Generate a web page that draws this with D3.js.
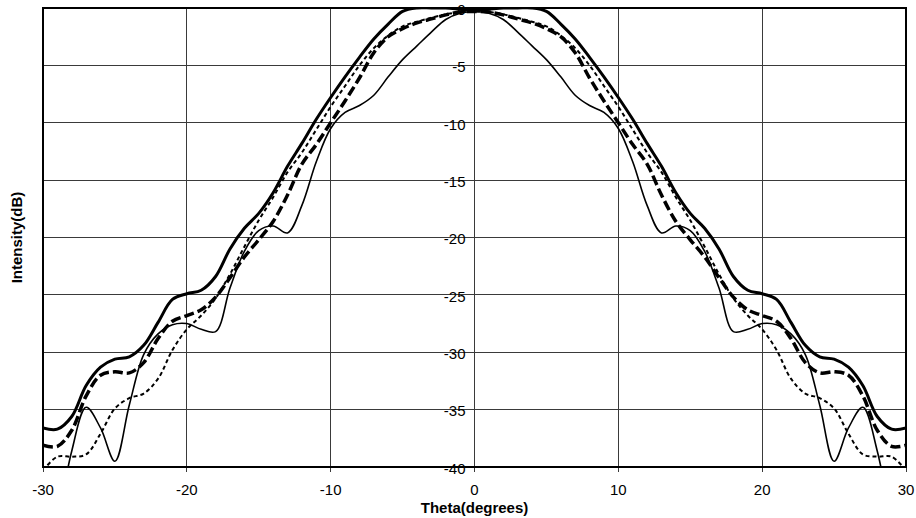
<!DOCTYPE html>
<html lang="en">
<head>
    <meta charset="utf-8">
    <script src="https://d3js.org/d3.v7.min.js"></script>
    <title>Intensity vs Theta</title>
    <style>
        body {margin: 0; background: #fff;}
        svg {display: block;}
        text {font-family: "Liberation Sans", Arial, sans-serif; fill: #000;}
        .tick-label {font-size: 15px;}
        .axis-title {font-size: 15px; font-weight: bold;}
        .grid {stroke: #3a3a3a; stroke-width: 1; shape-rendering: crispEdges;}
        .frame {fill: none; stroke: #000; stroke-width: 2; shape-rendering: crispEdges;}
        .series {fill: none; stroke: #000; stroke-linejoin: round;}
    </style>
</head>
<body>
<svg width="916" height="518"></svg>

<script>
    // theta (degrees)
    var theta = [-30, -29, -28, -27, -26, -25, -24, -23, -22, -21, -20, -19, -18, -17, -16, -15,
        -14, -13, -12, -11, -10, -9, -8, -7, -6, -5, -4, -3, -2, -1, 0,
        1, 2, 3, 4, 5, 6, 7, 8, 9, 10, 11, 12, 13, 14, 15,
        16, 17, 18, 19, 20, 21, 22, 23, 24, 25, 26, 27, 28, 29, 30];

    // intensity (dB), one array per curve
    var thickSolid = [-36.6, -36.7, -35.6, -32.9, -31.3, -30.6, -30.4, -29.4, -27.4, -25.4, -24.9, -24.6, -23.4, -21.0, -19.2, -17.9,
        -16.1, -13.8, -11.8, -9.7, -7.8, -6.0, -4.3, -2.7, -1.4, -0.3, 0, 0, 0, -0.1, -0.2,
        -0.1, 0, 0, 0, -0.3, -1.4, -2.7, -4.3, -6.0, -7.8, -9.7, -11.8, -13.8, -16.1, -17.9,
        -19.2, -21.0, -23.4, -24.6, -24.9, -25.4, -27.4, -29.4, -30.4, -30.6, -31.3, -32.9, -35.6, -36.7, -36.6];

    var thickDash = [-38.1, -38.2, -36.8, -33.8, -32.0, -31.7, -31.8, -30.9, -28.8, -27.3, -26.8, -26.3, -25.2, -23.5, -21.7, -20.2,
        -18.6, -16.3, -13.6, -11.9, -10.0, -8.1, -6.1, -3.9, -2.5, -1.8, -1.3, -0.95, -0.6, -0.35, -0.3,
        -0.35, -0.6, -0.95, -1.3, -1.8, -2.5, -3.9, -6.1, -8.1, -10.0, -11.9, -13.6, -16.3, -18.6, -20.2,
        -21.7, -23.5, -25.2, -26.3, -26.8, -27.3, -28.8, -30.9, -31.8, -31.7, -32.0, -33.8, -36.8, -38.2, -38.1];

    var dotted = [-40.3, -39.1, -39.1, -38.9, -37.1, -34.9, -34.0, -33.6, -32.3, -29.8, -28.0, -26.8, -25.3, -23.2, -20.8, -18.5,
        -16.5, -14.3, -12.6, -10.6, -8.6, -6.8, -5.0, -3.5, -2.4, -1.6, -1.2, -0.85, -0.55, -0.35, -0.3,
        -0.35, -0.55, -0.85, -1.2, -1.6, -2.4, -3.5, -5.0, -6.8, -8.6, -10.6, -12.6, -14.3, -16.5, -18.5,
        -20.8, -23.2, -25.3, -26.8, -28.0, -29.8, -32.3, -33.6, -34.0, -34.9, -37.1, -38.9, -39.1, -39.1, -40.3];

    var thinSolid = [-51, -45, -38.6, -34.8, -36.6, -39.5, -34.6, -30.2, -28.4, -27.6, -27.5, -28.0, -28.2, -24.4, -21.2, -19.4,
        -19.0, -19.6, -17.2, -13.4, -10.5, -9.1, -8.5, -7.6, -6.0, -4.5, -3.3, -2.1, -1.0, -0.45, -0.3,
        -0.45, -1.0, -2.1, -3.3, -4.5, -6.0, -7.6, -8.5, -9.1, -10.5, -13.4, -17.2, -19.6, -19.0, -19.4,
        -21.2, -24.4, -28.2, -28.0, -27.5, -27.6, -28.4, -30.2, -34.6, -39.5, -36.6, -34.8, -38.6, -45, -51];

    var xTicks = [-30, -20, -10, 0, 10, 20, 30];
    var yTicks = [0, -5, -10, -15, -20, -25, -30, -35, -40];

    var margin = {left: 43, top: 8, right: 10, bottom: 51};
    var width = 916 - margin.left - margin.right;
    var height = 518 - margin.top - margin.bottom;

    var svg = d3.select('svg');
    var g = svg.append('g').attr('transform', 'translate(' + margin.left + ',' + margin.top + ')');

    var x = d3.scaleLinear().domain([-30, 30]).range([0, width]);
    var y = d3.scaleLinear().domain([-40, 0]).range([height, 0]);

    // grid
    g.selectAll('.hgrid').data(yTicks.slice(1, -1)).enter().append('line')
        .attr('class', 'grid')
        .attr('x1', 0).attr('x2', width)
        .attr('y1', d => y(d)).attr('y2', d => y(d));

    g.selectAll('.vgrid').data(xTicks.slice(1, -1)).enter().append('line')
        .attr('class', 'grid')
        .attr('x1', d => x(d)).attr('x2', d => x(d))
        .attr('y1', 0).attr('y2', height);

    // y axis sits on theta = 0
    var yAxis = g.append('g').attr('transform', 'translate(' + x(0) + ',0)');
    yAxis.selectAll('line').data(yTicks).enter().append('line')
        .attr('class', 'grid')
        .attr('x1', -4).attr('x2', 4)
        .attr('y1', d => y(d)).attr('y2', d => y(d));
    yAxis.selectAll('text').data(yTicks).enter().append('text')
        .attr('class', 'tick-label')
        .attr('text-anchor', 'end')
        .attr('x', -9)
        .attr('y', d => y(d))
        .attr('dy', '0.45em')
        .text(d => d);

    // x axis
    var xAxis = g.append('g').attr('transform', 'translate(0,' + height + ')');
    xAxis.selectAll('line').data(xTicks).enter().append('line')
        .attr('class', 'grid')
        .attr('x1', d => x(d)).attr('x2', d => x(d))
        .attr('y1', 0).attr('y2', 5);
    xAxis.selectAll('text').data(xTicks).enter().append('text')
        .attr('class', 'tick-label')
        .attr('text-anchor', 'middle')
        .attr('x', d => x(d))
        .attr('y', 28)
        .text(d => d);

    // curves
    g.append('clipPath').attr('id', 'plot-clip')
        .append('rect').attr('width', width).attr('height', height);

    var line = d3.line()
        .x(d => x(d[0]))
        .y(d => y(d[1]))
        .curve(d3.curveCatmullRom.alpha(0.5));

    var series = [
        {values: dotted, width: 2, dash: '4,3'},
        {values: thickDash, width: 3.5, dash: '10,4'},
        {values: thinSolid, width: 1.6, dash: null},
        {values: thickSolid, width: 3, dash: null}
    ];

    g.append('g').attr('clip-path', 'url(#plot-clip)')
        .selectAll('path').data(series).enter().append('path')
        .attr('class', 'series')
        .attr('d', s => line(theta.map((t, i) => [t, s.values[i]])))
        .attr('stroke-width', s => s.width)
        .attr('stroke-dasharray', s => s.dash);

    // plot frame
    g.append('rect').attr('class', 'frame')
        .attr('width', width).attr('height', height);

    // titles
    svg.append('text').attr('class', 'axis-title')
        .attr('text-anchor', 'middle')
        .attr('x', margin.left + x(0)).attr('y', 513)
        .text('Theta(degrees)');

    svg.append('text').attr('class', 'axis-title')
        .attr('text-anchor', 'middle')
        .attr('transform', 'translate(22,' + (margin.top + height / 2) + ') rotate(-90)')
        .text('Intensity(dB)');
</script>
</body>
</html>
